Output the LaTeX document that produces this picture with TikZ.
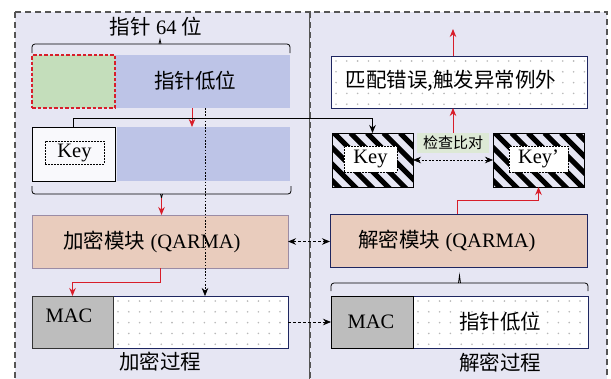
\documentclass[tikz,border=0pt]{standalone}
\usepackage{fontspec}
\setmainfont{Liberation Serif}
\newfontfamily\cjk{Noto Sans CJK SC}
\usetikzlibrary{arrows.meta,calc}
\definecolor{panelbg}{HTML}{E6E6F3}
\definecolor{blueblk}{HTML}{BDC4E7}
\definecolor{greenblk}{HTML}{C4DEBB}
\definecolor{peach}{HTML}{E9CCBD}
\definecolor{encb}{HTML}{9B8CA5}
\definecolor{macgray}{HTML}{BDBDBD}
\definecolor{myred}{HTML}{D81E2A}
\definecolor{navy}{HTML}{1E2660}
\definecolor{chkbg}{HTML}{DDE9D6}
\definecolor{dotc}{HTML}{B8B8B8}
\definecolor{panelline}{HTML}{555555}
\begin{document}
\begin{tikzpicture}[x=1pt,y=-1pt,
  box/.style={anchor=north west,inner sep=0pt,outer sep=0pt},
  txt/.style={font=\fontsize{20.5}{23}\selectfont,inner sep=0pt},
  panel/.style={fill=panelbg,draw=panelline,line width=1.1pt,dash pattern=on 6pt off 4pt},
  redarr/.style={draw=myred,line width=0.9pt,-{Stealth[length=8pt,width=6.5pt]}},
  blkarr/.style={draw=black,line width=0.8pt,-{Stealth[length=8pt,width=6.5pt]}},
  bracket/.style={draw=black,line width=0.8pt},
  dotbg/.style={path picture={
    \foreach \i in {0,...,24}{\foreach \j in {0,...,5}{
      \fill[dotc] ([xshift=\i*10.8pt+5pt,yshift=-\j*10.8pt-5pt]path picture bounding box.north west) circle (0.9pt);}}}},
  hatchbg/.style={path picture={
    \foreach \k in {-5,...,7}{
      \draw[line width=5pt] ([xshift=\k*16.5pt+2pt]path picture bounding box.north west) -- ++(70pt,-70pt);}}},
  inkey/.style={inner sep=0pt,fill=white,draw=black,line width=0.6pt,dash pattern=on 1.6pt off 1.4pt,txt}
]
\useasboundingbox (0,0) rectangle (611,378);
\clip (0,0) rectangle (611,378);
\fill[white] (0,0) rectangle (611,378);
\draw[panel] (15,12) rectangle (310,400);
\draw[panel] (310,12) rectangle (607,400);

% ---------- left: encryption ----------
\node[txt] (t64) at (156,27) {{\cjk 指针} 64 {\cjk 位}};
\draw[bracket,rounded corners=3pt] (32,53) -- (32,44) -- (290,44) -- (290,53);
\draw[bracket] (159,44) -- (160,39.5) -- (161,44);

\node[box,minimum width=175pt,minimum height=53pt,fill=blueblk] (lo) at (115,55) {};
\node[box,minimum width=83pt,minimum height=53pt,fill=greenblk,draw=myred,line width=1.3pt,dash pattern=on 3.5pt off 2pt] (hi) at (32,55) {};
\node[txt] (lotxt) at (195,81) {\cjk 指针低位};

\node[box,minimum width=83pt,minimum height=54pt,fill=white!75!panelbg,draw=black,line width=0.8pt] (keyL) at (32,127) {};
\node[inkey,fill=none,minimum width=59pt,minimum height=23pt] (keyLin) at (74.5,152.5) {Key};
\node[box,minimum width=173pt,minimum height=54pt,fill=blueblk] (lo2) at (117,127) {};

\draw[bracket,rounded corners=3pt] (32,186) -- (32,194) -- (291,194) -- (291,186);
\draw[bracket] (160.5,194) -- (161.5,198) -- (162.5,194);
\coordinate (bbtip) at (161.5,198);

\node[box,minimum width=256pt,minimum height=53pt,fill=peach,draw=encb,line width=0.8pt] (enc) at (32,215) {};
\node[txt] (enctxt) at (152,242) {{\cjk 加密模块} (QARMA)};

\node[box,minimum width=175pt,minimum height=52pt,fill=white,draw=navy,line width=0.8pt,dotbg] (datL) at (113,296) {};
\node[box,minimum width=81pt,minimum height=52pt,fill=macgray,draw=black!80,line width=0.8pt] (macL) at (32,296) {};
\node[txt] (macLtxt) at (69,316) {MAC};
\node[txt] (encproc) at (160,362) {\cjk 加密过程};

% ---------- right: decryption ----------
\node[box,minimum width=256pt,minimum height=52pt,fill=white,draw=navy,line width=0.9pt,dotbg] (err) at (331,56) {};
\node[txt] (errtxt) at (451,81) {\cjk 匹配错误,触发异常例外};
\coordinate (errout) at (453,29);

\node[box,minimum width=81pt,minimum height=54pt,draw=black,line width=0.8pt,hatchbg] (keyA) at (332,133) {};
\node[inkey,minimum width=53pt,minimum height=26pt] (keyAin) at (370.5,159) {Key};
\node[box,minimum width=91pt,minimum height=54pt,draw=black,line width=0.8pt,hatchbg] (keyB) at (493,133) {};
\node[inkey,minimum width=59pt,minimum height=26pt] (keyBin) at (538.5,159) {Key’};
\node[inner sep=0pt,minimum width=72pt,minimum height=20pt,fill=chkbg,font=\fontsize{15}{17}\selectfont] (chk) at (453,143) {\cjk 检查比对};

\node[box,minimum width=257pt,minimum height=53pt,fill=peach,draw=navy,line width=0.8pt] (dec) at (330,214) {};
\node[txt] (dectxt) at (447,241) {{\cjk 解密模块} (QARMA)};

\draw[bracket,rounded corners=3pt] (331,291) -- (331,283) -- (588,283) -- (588,291);
\draw[bracket] (458.5,283) -- (459.5,275.5) -- (460.5,283);

\node[box,minimum width=175pt,minimum height=52pt,fill=white,draw=navy,line width=0.8pt,dotbg] (datR) at (413,296) {};
\node[box,minimum width=82pt,minimum height=52pt,fill=macgray,draw=black,line width=0.8pt] (macR) at (331,296) {};
\node[txt] (macRtxt) at (371,322) {MAC};
\node[txt] (datRtxt) at (500,322) {\cjk 指针低位};
\node[txt] (decproc) at (500,363) {\cjk 解密过程};

% ---------- connectors ----------
\draw[redarr] (192,0 |- lo.south) -- (192,0 |- lo2.north);
\draw[blkarr,line width=0.7pt,dash pattern=on 1.6pt off 1.6pt] (205,0 |- lo.south) -- (205,0 |- datL.north);
\draw[blkarr] (keyL.north) -- ++(0,-9) -| (keyA.north);
\draw[redarr] (bbtip) -- (bbtip |- enc.north);
\draw[redarr] (160,0 |- enc.south) -- (160,282) -| (macL.north);

\draw[blkarr,{Stealth[length=8pt,width=6.5pt]}-{Stealth[length=8pt,width=6.5pt]},dash pattern=on 3pt off 2pt] (enc.east) -- (enc.east -| dec.west);
\draw[blkarr,dash pattern=on 3pt off 2pt] (datL.east) -- (macR.west);

\draw[redarr] (chk.north) -- (chk.north |- err.south);
\draw[redarr] (453,0 |- err.north) -- (errout);
\draw[blkarr,{Stealth[length=8pt,width=6.5pt]}-{Stealth[length=8pt,width=6.5pt]},line width=0.7pt,dash pattern=on 2pt off 1.5pt] (keyA.east) -- (keyB.west);
\draw[redarr] (457,0 |- dec.north) -- (457,200) -| (keyB.south);
\end{tikzpicture}
\end{document}
